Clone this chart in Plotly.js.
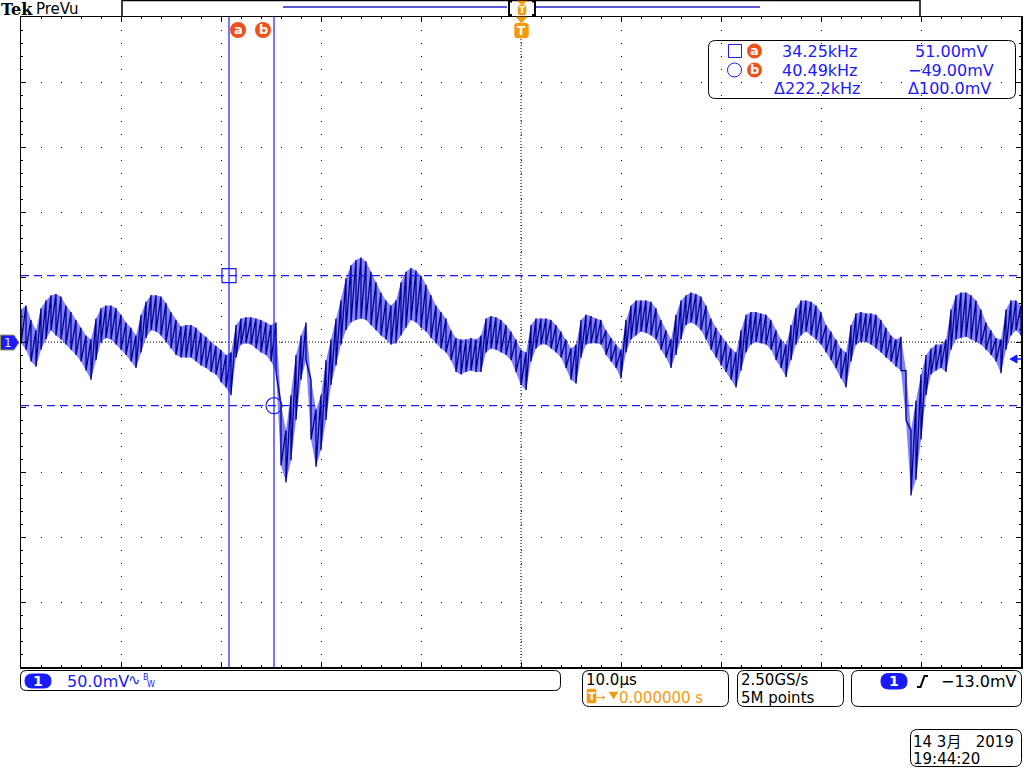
<!DOCTYPE html>
<html><head><meta charset="utf-8">
<script src="https://cdn.plot.ly/plotly-3.0.1.min.js"></script>
<style>html,body{margin:0;padding:0;background:#fff;overflow:hidden}#chart{width:1024px;height:768px}</style>
</head><body><div id="chart"></div>
<script>
// ---------------- data (read from the screen) ----------------
// envelope of channel 1, sampled every 0.5 µs from -50 µs to +50 µs
const T_START = -50, T_STEP = 0.5;           // µs
const hiMv = [
 25,28,17,9,26,32,36,37,35,28,
 23,17,11,5,2,18,26,28,28,26,
 21,15,11,5,21,31,36,36,35,30,
 23,17,12,13,13,11,7,4,0,-3,
 -6,-10,-8,13,18,19,19,18,17,15,
 13,15,-48,-68,-41,-10,5,15,-29,-52,
 -41,-14,2,18,32,49,59,63,65,62,
 54,46,38,32,28,32,46,54,57,55,
 51,44,36,28,23,18,9,3,2,2,
 3,2,5,18,20,19,17,13,8,2,
 -6,-8,13,18,18,18,17,13,8,2,
 -5,-2,17,21,20,18,17,9,3,-2,
 -6,17,28,32,32,32,31,26,17,9,
 2,21,32,36,38,37,35,28,18,11,
 5,0,-5,-8,9,21,23,23,22,21,
 17,9,2,-2,13,26,32,32,31,28,
 23,13,8,2,-5,-8,13,22,23,22,
 22,21,17,11,5,2,4,-22,-68,-45,
 -25,-10,-5,-2,-2,2,25,36,38,38,
 36,32,25,15,9,3,2,25,32,32,
 28];
const loMv = [
 -1,-6,-15,-19,-6,2,9,5,2,-2,
 -6,-10,-15,-22,-29,-14,0,3,2,-2,
 -6,-10,-15,-20,-8,3,9,8,5,0,
 -5,-10,-12,-12,-12,-15,-18,-20,-23,-25,
 -31,-35,-41,-12,-2,-1,-2,-5,-8,-10,
 -15,-23,-95,-108,-91,-60,-29,-14,-75,-96,
 -83,-60,-33,-18,-2,9,15,17,18,17,
 13,9,5,2,-2,-1,5,11,17,15,
 11,8,3,-1,-5,-8,-14,-23,-25,-23,
 -22,-23,-23,-8,-5,-6,-8,-10,-14,-23,
 -33,-37,-15,-5,-2,-2,-5,-8,-12,-20,
 -29,-32,-12,-2,-1,-1,-2,-10,-15,-20,
 -28,-8,2,5,8,7,5,2,-6,-12,
 -20,-10,2,13,15,13,9,2,-6,-12,
 -18,-23,-29,-35,-22,-8,-2,0,-1,-2,
 -6,-14,-20,-27,-14,-2,5,8,5,2,
 -2,-8,-14,-20,-28,-35,-15,-2,0,0,
 -2,-5,-8,-12,-15,-19,-22,-60,-118,-106,
 -75,-41,-25,-22,-20,-23,-6,2,3,4,
 2,0,-2,-6,-10,-15,-24,-6,5,9,
 5];
const cursorTimesUs = [-29.2, -24.7];    // cursor a, b
const cursorLevelsMv = [51.0, -49.0];    // cursor a, b
const triggerLevelMv = -13.0;
const readoutFreq = ['34.25kHz', '40.49kHz', '\u0394222.2kHz'];
const readoutVolt = ['51.00mV', '\u221249.00mV', '\u0394100.0mV'];
const voltsPerDiv = '50.0mV';
const timePerDiv = '10.0\u00B5s';
const trigPos = '0.000000 s';
const sampleRate = '2.50GS/s';
const recordLen = '5M points';
const trigText = '\u221213.0mV';
const dateText = ['14 3\u6708\u00A0\u00A0\u00A02019', '19:44:20'];

// ---------------- helpers (pixel -> paper) ----------------
const X = p => p / 1024, Y = p => 1 - p / 768;
const BLUE = '#1a1aff', ORANGE = '#f59a10', RED = '#f0501a';
const FONT = 'DejaVu Sans, Noto Sans CJK SC, sans-serif';
const shapes = [], ann = [];
function P(pts){return pts.map((p,i)=>(i?'L':'M')+X(p[0]).toFixed(5)+','+Y(p[1]).toFixed(5)).join(' ');}
function path(d, color, width, fill, dash){shapes.push({type:'path',xref:'paper',yref:'paper',path:d,
  line:{color:color||'rgba(0,0,0,0)',width:width||0,dash:dash||'solid'},fillcolor:fill||'rgba(0,0,0,0)',layer:'above'});}
function rr(x0,y0,x1,y1,r){const q=(a,b)=>X(a).toFixed(5)+','+Y(b).toFixed(5);
  return 'M'+q(x0+r,y0)+' L'+q(x1-r,y0)+' Q'+q(x1,y0)+' '+q(x1,y0+r)+' L'+q(x1,y1-r)+' Q'+q(x1,y1)+' '+q(x1-r,y1)+
   ' L'+q(x0+r,y1)+' Q'+q(x0,y1)+' '+q(x0,y1-r)+' L'+q(x0,y0+r)+' Q'+q(x0,y0)+' '+q(x0+r,y0)+' Z';}
function circ(cx,cy,r,color,fill,w){shapes.push({type:'circle',xref:'paper',yref:'paper',x0:X(cx-r),x1:X(cx+r),y0:Y(cy+r),y1:Y(cy-r),
  line:{color:color,width:w===undefined?1:w},fillcolor:fill||'rgba(0,0,0,0)',layer:'above'});}
function txt(s,px,py,o){o=o||{};ann.push({text:s,x:X(px),y:Y(py),xref:'paper',yref:'paper',showarrow:false,
  xanchor:o.anchor||'left',yanchor:'middle',borderpad:0,borderwidth:0,
  font:{family:o.family||FONT,size:o.size||16,color:o.color||'#000',weight:o.weight||'normal'}});}

// ---------------- waveform traces ----------------
const ts = hiMv.map((_,i)=>T_START+i*T_STEP);
const xs = [], ys = [];
ts.forEach((t,i)=>{xs.push(t,t); ys.push(hiMv[i], loMv[i]);});
const traces = [
 // intensity band between the envelopes
 {type:'scatter',mode:'lines',x:ts.concat(ts.slice().reverse()),y:hiMv.concat(loMv.slice().reverse()),
  fill:'toself',fillcolor:'rgba(25,25,250,0.55)',line:{width:0,color:'rgba(0,0,0,0)'},hoverinfo:'skip'},
 // the ripple itself
 {type:'scatter',mode:'lines',x:xs,y:ys,line:{color:'#000090',width:1.3},hoverinfo:'skip'},
 {type:'scatter',mode:'markers',x:[cursorTimesUs[0]],y:[cursorLevelsMv[0]],
  marker:{symbol:'square-open',size:14,color:BLUE,line:{width:1.2}},hoverinfo:'skip'},
 {type:'scatter',mode:'markers',x:[cursorTimesUs[1]],y:[cursorLevelsMv[1]],
  marker:{symbol:'circle-open',size:16,color:BLUE,line:{width:1.2}},hoverinfo:'skip'}
];

// cursors and centre lines (data coordinates)
cursorTimesUs.forEach(t=>shapes.push({type:'line',xref:'x',yref:'y',x0:t,x1:t,y0:-250,y1:250,line:{color:BLUE,width:1.2}}));
cursorLevelsMv.forEach(v=>shapes.push({type:'line',xref:'x',yref:'y',x0:-50,x1:50,y0:v,y1:v,line:{color:BLUE,width:1.2,dash:'8px,5px'}}));
shapes.push({type:'line',xref:'x',yref:'y',x0:0,x1:0,y0:-250,y1:250,line:{color:'#000',width:1,dash:'1px,2px'},layer:'below'});
shapes.push({type:'line',xref:'x',yref:'y',x0:-50,x1:50,y0:0,y1:0,line:{color:'#000',width:1,dash:'1px,2px'},layer:'below'});

// ---------------- screen furniture ----------------
// header
txt('Tek',0.5,9,{family:'DejaVu Serif',size:16,weight:'bold'});
txt('PreVu',36,9,{size:15});
path(P([[122,16],[122,0.5],[920,0.5],[920,16]]),'#000',1.5);
path(P([[283,7],[507,7]]),'#2020c0',1.5); path(P([[536,7],[760,7]]),'#2020c0',1.5);
path(P([[512,1.5],[509,1.5],[509,15],[512,15]]),'#000',2);
path(P([[532,1.5],[535,1.5],[535,15],[532,15]]),'#000',2);
path(P([[517,1],[527,1],[522,5]])+' Z',ORANGE,0.5,ORANGE);
path(rr(518,5,526,15,2),ORANGE,0.5,ORANGE);
txt('T',522,10,{anchor:'center',size:9,color:'#fff',weight:'bold'});
path(P([[516,17],[527,17],[521.5,23]])+' Z',ORANGE,0.5,ORANGE);
path(rr(514.5,23,528.5,38,3),ORANGE,0.5,ORANGE);
txt('T',521.5,31,{anchor:'center',size:12,color:'#fff',weight:'bold'});
// cursor labels
circ(238,30,8,RED,RED,0); txt('a',238,29.5,{anchor:'center',size:13,color:'#fff',weight:'bold'});
circ(263,30,8,RED,RED,0); txt('b',263,29.5,{anchor:'center',size:13,color:'#fff',weight:'bold'});
// ground marker & trigger level arrow
path(P([[0.5,335],[14,335],[19,342.5],[14,350],[0.5,350]])+' Z','#9a9a50',1,BLUE);
txt('1',7.5,342.5,{anchor:'center',size:12,color:'#e8e8ff'});
path(P([[1010,359],[1017,355],[1017,363]])+' Z',BLUE,1,BLUE);
path(P([[1016,359],[1021,359]]),BLUE,1.5);
// readout box
path(rr(708.5,40.5,1015.5,98.5,7),'#000',1);
path(P([[728.5,44.5],[741.5,44.5],[741.5,57.5],[728.5,57.5]])+' Z',BLUE,1);
circ(754.5,51,7.5,RED,RED,0); txt('a',754.5,50.5,{anchor:'center',size:13,color:'#fff',weight:'bold'});
circ(734.5,70,7,BLUE,null,1);
circ(754.5,70,7.5,RED,RED,0); txt('b',754.5,69.5,{anchor:'center',size:13,color:'#fff',weight:'bold'});
txt(readoutFreq[0],782,51,{color:BLUE}); txt(readoutVolt[0],915,51,{color:BLUE});
txt(readoutFreq[1],782,70,{color:BLUE}); txt(readoutVolt[1],908,70,{color:BLUE});
txt(readoutFreq[2],774,89,{color:BLUE}); txt(readoutVolt[2],908,89,{color:BLUE});
// channel box
path(rr(20.5,670.5,560.5,690.5,6),'#000',1);
path(rr(25,674,51,688,7),BLUE,1,BLUE);
txt('1',38,681,{anchor:'center',size:14,color:'#fff',weight:'bold'});
txt(voltsPerDiv,67,681,{color:BLUE});
txt('\u223F',128,680,{size:15,color:BLUE});
txt('B',143,677,{size:8,color:BLUE}); txt('W',147,684,{size:8,color:BLUE});
// timebase box
path(rr(582.5,670.5,728.5,706.5,7),'#000',1);
txt(timePerDiv,586,680,{size:15});
path(rr(587,689,596,703,1.5),ORANGE,0.5,ORANGE);
txt('T',591.5,696,{anchor:'center',size:11,color:'#fff',weight:'bold'});
txt('\u2192',596,697,{size:11,color:ORANGE});
path(P([[609,692],[618,692],[613.5,699]])+' Z',ORANGE,0.5,ORANGE);
txt(trigPos,619,698,{size:15,color:ORANGE});
// sample box
path(rr(737.5,670.5,843.5,706.5,7),'#000',1);
txt(sampleRate,741,680,{size:15}); txt(recordLen,741,698,{size:15});
// trigger box
path(rr(851.5,670.5,1021.5,706.5,7),'#000',1);
path(rr(881,673.5,907,689,7.5),BLUE,1,BLUE);
txt('1',894,681,{anchor:'center',size:14,color:'#fff',weight:'bold'});
path(P([[917,687],[920.5,687],[924.5,676],[928,676]]),'#000',2);
txt(trigText,941,681,{});
// date box
path(rr(910.5,729.5,1021.5,766.5,7),'#000',1);
txt(dateText[0],913,742,{size:15}); txt(dateText[1],913,759,{size:15});

// ---------------- layout ----------------
const xDom = [X(21), X(1021)], yDom = [Y(667), Y(17)];
const layout = {
  width:1024,height:768,margin:{l:0,r:0,t:0,b:0},paper_bgcolor:'#fff',plot_bgcolor:'#fff',showlegend:false,
  xaxis:{domain:xDom,range:[-50,50],tick0:0,dtick:10,showgrid:true,gridcolor:'#000',gridwidth:1,griddash:'1px,12px',
    zeroline:false,showline:true,linecolor:'#000',linewidth:1.5,mirror:'ticks',ticks:'inside',ticklen:5,tickcolor:'#000',
    showticklabels:false,minor:{dtick:2,ticks:'inside',ticklen:2,tickcolor:'#000',showgrid:false},fixedrange:true},
  yaxis:{domain:yDom,range:[-250,250],tick0:0,dtick:50,showgrid:true,gridcolor:'#000',gridwidth:1,griddash:'1px,19px',
    zeroline:false,showline:true,linecolor:'#000',linewidth:1.5,mirror:'ticks',ticks:'inside',ticklen:5,tickcolor:'#000',
    showticklabels:false,minor:{dtick:10,ticks:'inside',ticklen:2,tickcolor:'#000',showgrid:false},fixedrange:true},
  xaxis2:{overlaying:'x',domain:xDom,anchor:'free',position:Y(342),range:[-50,50],tick0:0,dtick:2,ticks:'outside',ticklen:2,
    tickcolor:'#000',showline:false,showgrid:false,zeroline:false,showticklabels:false},
  yaxis2:{overlaying:'y',domain:yDom,anchor:'free',position:X(521),range:[-250,250],tick0:0,dtick:10,ticks:'outside',ticklen:2,
    tickcolor:'#000',showline:false,showgrid:false,zeroline:false,showticklabels:false},
  shapes:shapes,annotations:ann
};
Plotly.newPlot('chart',traces,layout,{staticPlot:true,displayModeBar:false});
</script></body></html>
